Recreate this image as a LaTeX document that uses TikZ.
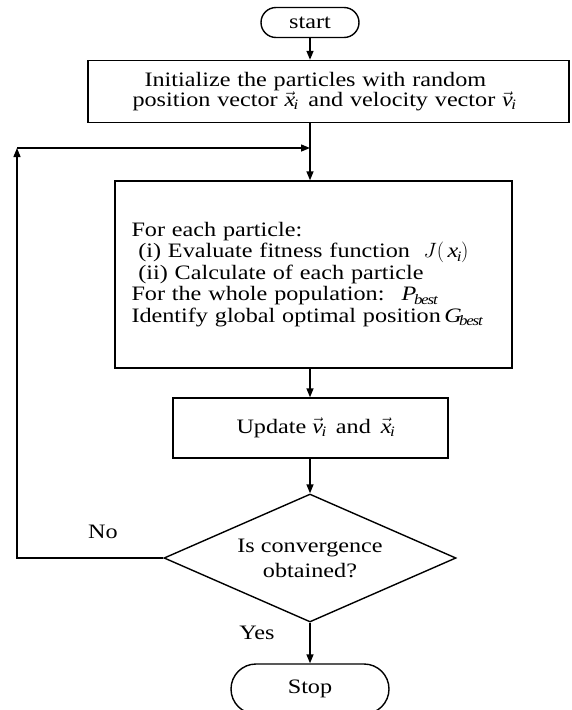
\documentclass[tikz,border=0pt]{standalone}
\usepackage{fontspec}
\setmainfont{Liberation Serif}[FakeStretch=1.18]
\usetikzlibrary{arrows.meta}
\usetikzlibrary{shapes.geometric}
\newcommand{\vecsub}[1]{\vec{\mathit{#1}}_{\mathit{i}}}

\begin{document}
\begin{tikzpicture}[x=1pt, y=-1pt, line width=1.4pt,
        >={Triangle[length=9pt, width=7pt]},
        txt/.style={font=\fontsize{20.5}{19}\selectfont},
        terminal/.style={draw, txt, rounded corners=#1, inner sep=0pt},
        procbox/.style={draw, txt, inner sep=0pt, align=left},
        decision/.style={draw, diamond, aspect=2.28, inner sep=0pt, align=center,
            font=\fontsize{20.5}{25}\selectfont}]
    \useasboundingbox (0,0) rectangle (571,710);
    \node[terminal=15pt, minimum width=98pt, minimum height=30pt] (start) at (310,22.5) {start};
    \node[procbox, minimum width=481pt, minimum height=62pt, text width=436pt] (init) at (328.5,91.5)
        {\hspace*{34pt}Initialize the particles with random\\
         \hspace*{22pt}position vector $\vecsub{x}$\, and velocity vector $\vecsub{v}$};
    \node[procbox, minimum width=397pt, minimum height=187pt, text width=380pt,
        font=\fontsize{20.5}{21.5}\selectfont] (eval) at (313.5,274.5)
        {\hspace*{8pt}For each particle:\\
         \hspace*{8pt}\ (i) Evaluate fitness function \ $J\bigl(\,\mathit{x}_{\mathit{i}}\bigr)$\\
         \hspace*{8pt}\ (ii) Calculate of each particle\\
         \hspace*{8pt}For the whole population: \ $\mathit{P}_{\mathit{best}}$\\
         \hspace*{8pt}Identify global optimal position\,$\mathit{G}_{\mathit{best}}$};
    \node[procbox, minimum width=275pt, minimum height=60pt] (update) at (310.5,428)
        {\hspace*{10pt}Update $\vecsub{v}$\hspace{10pt}and\hspace{10pt}$\vecsub{x}$};
    \node[decision, minimum width=292pt, minimum height=128pt] (conv) at (310,558)
        {Is convergence\\obtained?};
    \node[terminal=25pt, minimum width=158pt, minimum height=50pt] (stop) at (310,689) {Stop};
    \node[txt] (no) at (103,532) {No};
    \node[txt] (yes) at (257,633) {Yes};
    \coordinate (junc) at (310,148);
    \coordinate (corner) at (17,148);

    % main flow
    \draw[->] (start.south) -- (start.south |- init.north);
    \draw (init.south -| junc) -- (junc);
    \draw[->] (junc) -- (junc |- eval.north);
    \draw[->] (eval.south -| junc) -- (junc |- update.north);
    \draw[->] (update.south -| junc) -- (conv.north);
    \draw[->] (conv.south) -- (stop.north);
    % loop back
    \draw[->] (conv.west) -| (corner);
    \draw[->] (corner) -- (junc);
\end{tikzpicture}
\end{document}
